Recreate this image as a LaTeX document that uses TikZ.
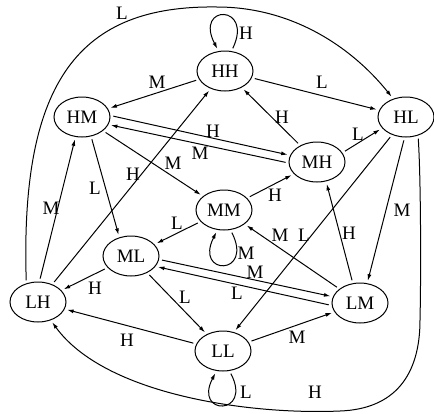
\documentclass[tikz,border=0pt]{standalone}
\usepackage{fontspec}
\setmainfont{Liberation Serif}
\usetikzlibrary{shapes.geometric,arrows.meta}
\begin{document}
\begin{tikzpicture}[x=1pt,y=-1pt,
  state/.style={draw,ellipse,minimum width=56pt,minimum height=40pt,inner sep=0pt,
    line width=1pt,font=\fontsize{19}{22}\selectfont},
  tr/.style={line width=1pt,-{Latex[length=6.5pt,width=4pt]},shorten >=2.5pt,shorten <=3pt},
  lab/.style={inner sep=0pt,font=\fontsize{19}{22}\selectfont}]
\useasboundingbox (0,0) rectangle (434,413);

% states
\node[state] (HH) at (225,71)  {HH};
\node[state] (HM) at (82,117)  {HM};
\node[state] (HL) at (406,117) {HL};
\node[state] (MH) at (317,162) {MH};
\node[state] (MM) at (224,210) {MM};
\node[state] (ML) at (131,256) {ML};
\node[state] (LH) at (38,302)  {LH};
\node[state] (LM) at (360,303) {LM};
\node[state] (LL) at (223,351) {LL};

% straight transitions
\draw[tr] (HH) -- (HM);
\draw[tr] (HH) -- (HL);
\draw[tr] (MH) -- (HH);
\draw[tr] (HM.3) -- (MH.166);
\draw[tr] (MH.182) -- (HM.-16);
\draw[tr] (MH.20) -- (HL.205);
\draw[tr] (HM) -- (MM);
\draw[tr] (HM.-65) -- (ML.122);
\draw[tr] (LH) -- (HH);
\draw[tr] (LH.86) -- (HM.-108);
\draw[tr] (MM) -- (MH);
\draw[tr] (MM) -- (ML);
\draw[tr] (HL.232) -- (LL.60);
\draw[tr] (HL.266) -- (LM.70);
\draw[tr] (LM.110) -- (MH.-65);
\draw[tr] (LM) -- (MM);
\draw[tr] (ML.-7) -- (LM.167);
\draw[tr] (LM.185) -- (ML.-23);
\draw[tr] (ML) -- (LH);
\draw[tr] (ML) -- (LL);
\draw[tr] (LL) -- (LH);
\draw[tr] (LL) -- (LM);

% outer arcs
\coordinate (topc) at (217,7);
\draw[tr] (LH.122) .. controls (20,80) and (80,5) .. (topc)
  .. controls (290,7) and (350,45) .. (HL.125);
\coordinate (rc) at (420,320);
\coordinate (bc) at (340,411);
\draw[tr] (HL.-57) .. controls (421,180) and (421,280) .. (rc)
  .. controls (420,375) and (395,409) .. (bc)
  .. controls (250,415) and (105,395) .. (LH.-55);

% self loops
\draw[tr] (HH.72) .. controls (254,4) and (194,4) .. (HH.108);
\draw[tr] (MM.-72) .. controls (254,276) and (194,276) .. (MM.-108);
\draw[tr] (LL.-72) .. controls (253,416) and (193,416) .. (LL.-108);

% labels
\node[lab] (l1)  at (122,13)  {L};
\node[lab] (l2)  at (157,82)  {M};
\node[lab] (l3)  at (213,131) {H};
\node[lab] (l4)  at (200,153) {M};
\node[lab] (l5)  at (173,163) {M};
\node[lab] (l6)  at (133,174) {H};
\node[lab] (l7)  at (95,188)  {L};
\node[lab] (l8)  at (51,208)  {M};
\node[lab] (l9)  at (246,33)  {H};
\node[lab] (l10) at (322,82)  {L};
\node[lab] (l11) at (282,117) {H};
\node[lab] (l12) at (358,134) {L};
\node[lab] (l13) at (275,195) {H};
\node[lab] (l14) at (402,210) {M};
\node[lab] (l15) at (349,233) {H};
\node[lab] (l16) at (280,235) {M};
\node[lab] (l17) at (304,235) {L};
\node[lab] (l18) at (246,253) {M};
\node[lab] (l19) at (255,272) {M};
\node[lab] (l20) at (237,293) {L};
\node[lab] (l21) at (297,337) {M};
\node[lab] (l22) at (246,392) {L};
\node[lab] (l23) at (315,392) {H};
\node[lab] (l24) at (177,223) {L};
\node[lab] (l25) at (95,288)  {H};
\node[lab] (l26) at (185,297) {L};
\node[lab] (l27) at (127,340) {H};
\end{tikzpicture}
\end{document}
